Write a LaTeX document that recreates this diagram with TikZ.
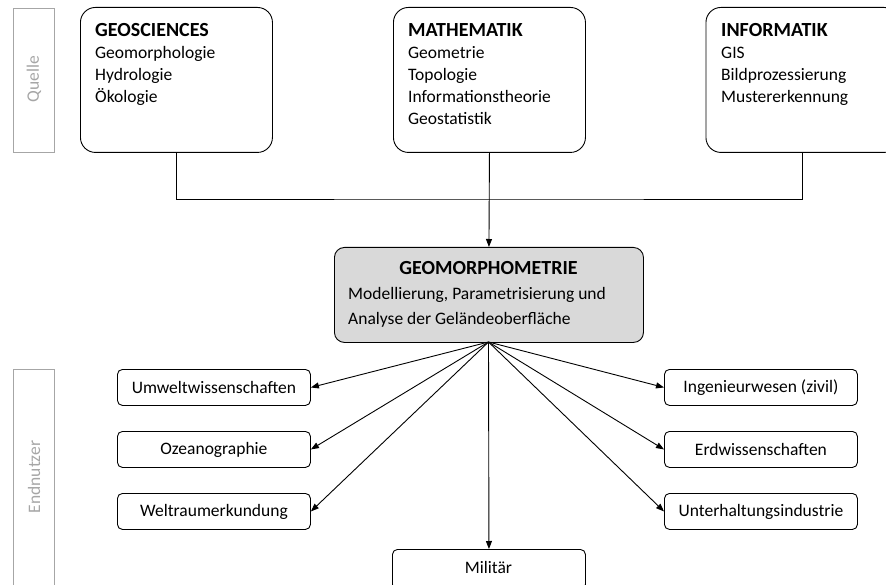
\documentclass[tikz,border=0pt]{standalone}
\usepackage{fontspec}
\setmainfont{Carlito}
\usetikzlibrary{arrows.meta}
\definecolor{sidegray}{HTML}{A6A6A6}
\definecolor{boxgray}{HTML}{D9D9D9}
\tikzset{
  base/.style={font=\fontsize{17.5}{22}\selectfont, inner sep=0pt},
  title/.style={font=\fontsize{20}{24}\selectfont\bfseries, inner sep=0pt},
  topbox/.style={draw=black, line width=0.9pt, rounded corners=15pt, minimum width=192pt, minimum height=145pt, inner sep=0pt, anchor=north west},
  mainbox/.style={draw=black, line width=0.9pt, fill=boxgray, rounded corners=10pt, minimum width=309pt, minimum height=95pt, inner sep=0pt, anchor=north west},
  userbox/.style={base, draw=black, line width=0.9pt, rounded corners=5pt, minimum width=193pt, minimum height=36pt, inner sep=0pt, anchor=north west},
  sidebox/.style={draw=sidegray, line width=0.9pt, minimum width=41pt, inner sep=0pt, anchor=north west},
  sidetext/.style={base, text=sidegray, rotate=90},
  conn/.style={draw=black, line width=0.9pt},
  arr/.style={conn, -{Triangle[length=8pt,width=6pt]}}
}
\begin{document}
\begin{tikzpicture}[x=1pt,y=-1pt]
\useasboundingbox (0,0) rectangle (886,585);
% side labels
\node[sidebox, minimum height=144pt] (quelle) at (13,8) {};
\node[sidetext] (quelletxt) at (34,79) {Quelle};
\node[sidebox, minimum height=230pt] (endnutzer) at (13,369) {};
\node[sidetext] (endnutzertxt) at (34,477) {Endnutzer};
% top boxes
\node[topbox] (geo) at (80,7) {};
\node[title, anchor=base west] (geotitle) at (95,36.5) {GEOSCIENCES};
\foreach[count=\i] \l in {Geomorphologie,Hydrologie,Ökologie}
  \node[base, anchor=base west] (geo-\i) at (95,{59+22*(\i-1)}) {\l};
\node[topbox] (math) at (393,7) {};
\node[title, anchor=base west] (mathtitle) at (408,36.5) {MATHEMATIK};
\foreach[count=\i] \l in {Geometrie,Topologie,Informationstheorie,Geostatistik}
  \node[base, anchor=base west] (math-\i) at (408,{59+22*(\i-1)}) {\l};
\node[topbox, minimum width=193pt] (info) at (705.5,7) {};
\node[title, anchor=base west] (infotitle) at (721,36.5) {INFORMATIK};
\foreach[count=\i] \l in {GIS,Bildprozessierung,Mustererkennung}
  \node[base, anchor=base west] (info-\i) at (721,{59+22*(\i-1)}) {\l};
% central box
\node[mainbox] (geom) at (334,247) {};
\node[title, anchor=base] (geomtitle) at (488.5,275) {GEOMORPHOMETRIE};
\node[base, anchor=base west] (geombody1) at (348,299.5) {Modellierung, Parametrisierung und};
\node[base, anchor=base west] (geombody2) at (348,324) {Analyse der Geländeoberfläche};
% end user boxes
\node[userbox] (umwelt) at (117,369) {Umweltwissenschaften};
\node[userbox] (ozean) at (117,431) {Ozeanographie};
\node[userbox] (weltraum) at (117,493) {Weltraumerkundung};
\node[userbox] (ingenieur) at (664,369) {Ingenieurwesen (zivil)};
\node[userbox] (erd) at (664,431) {Erdwissenschaften};
\node[userbox] (unterhaltung) at (664,493) {Unterhaltungsindustrie};
\node[userbox, minimum height=40pt] (militaer) at (392,549) {};
\node[base, anchor=base] (militaertxt) at (488.5,573) {Militär};
% connectors top
\coordinate (join) at (488.5,199);
\draw[conn] (geo.south) |- (join) -| (info.south);
\draw[arr] (math.south) -- (geom.north);
% fan
\coordinate (fan) at (488.5,342);
\foreach \t in {umwelt,ozean,weltraum}{\draw[arr] (fan) -- (\t.east);}
\foreach \t in {ingenieur,erd,unterhaltung}{\draw[arr] (fan) -- (\t.west);}
\draw[arr] (fan) -- (militaer.north);
\end{tikzpicture}
\end{document}
